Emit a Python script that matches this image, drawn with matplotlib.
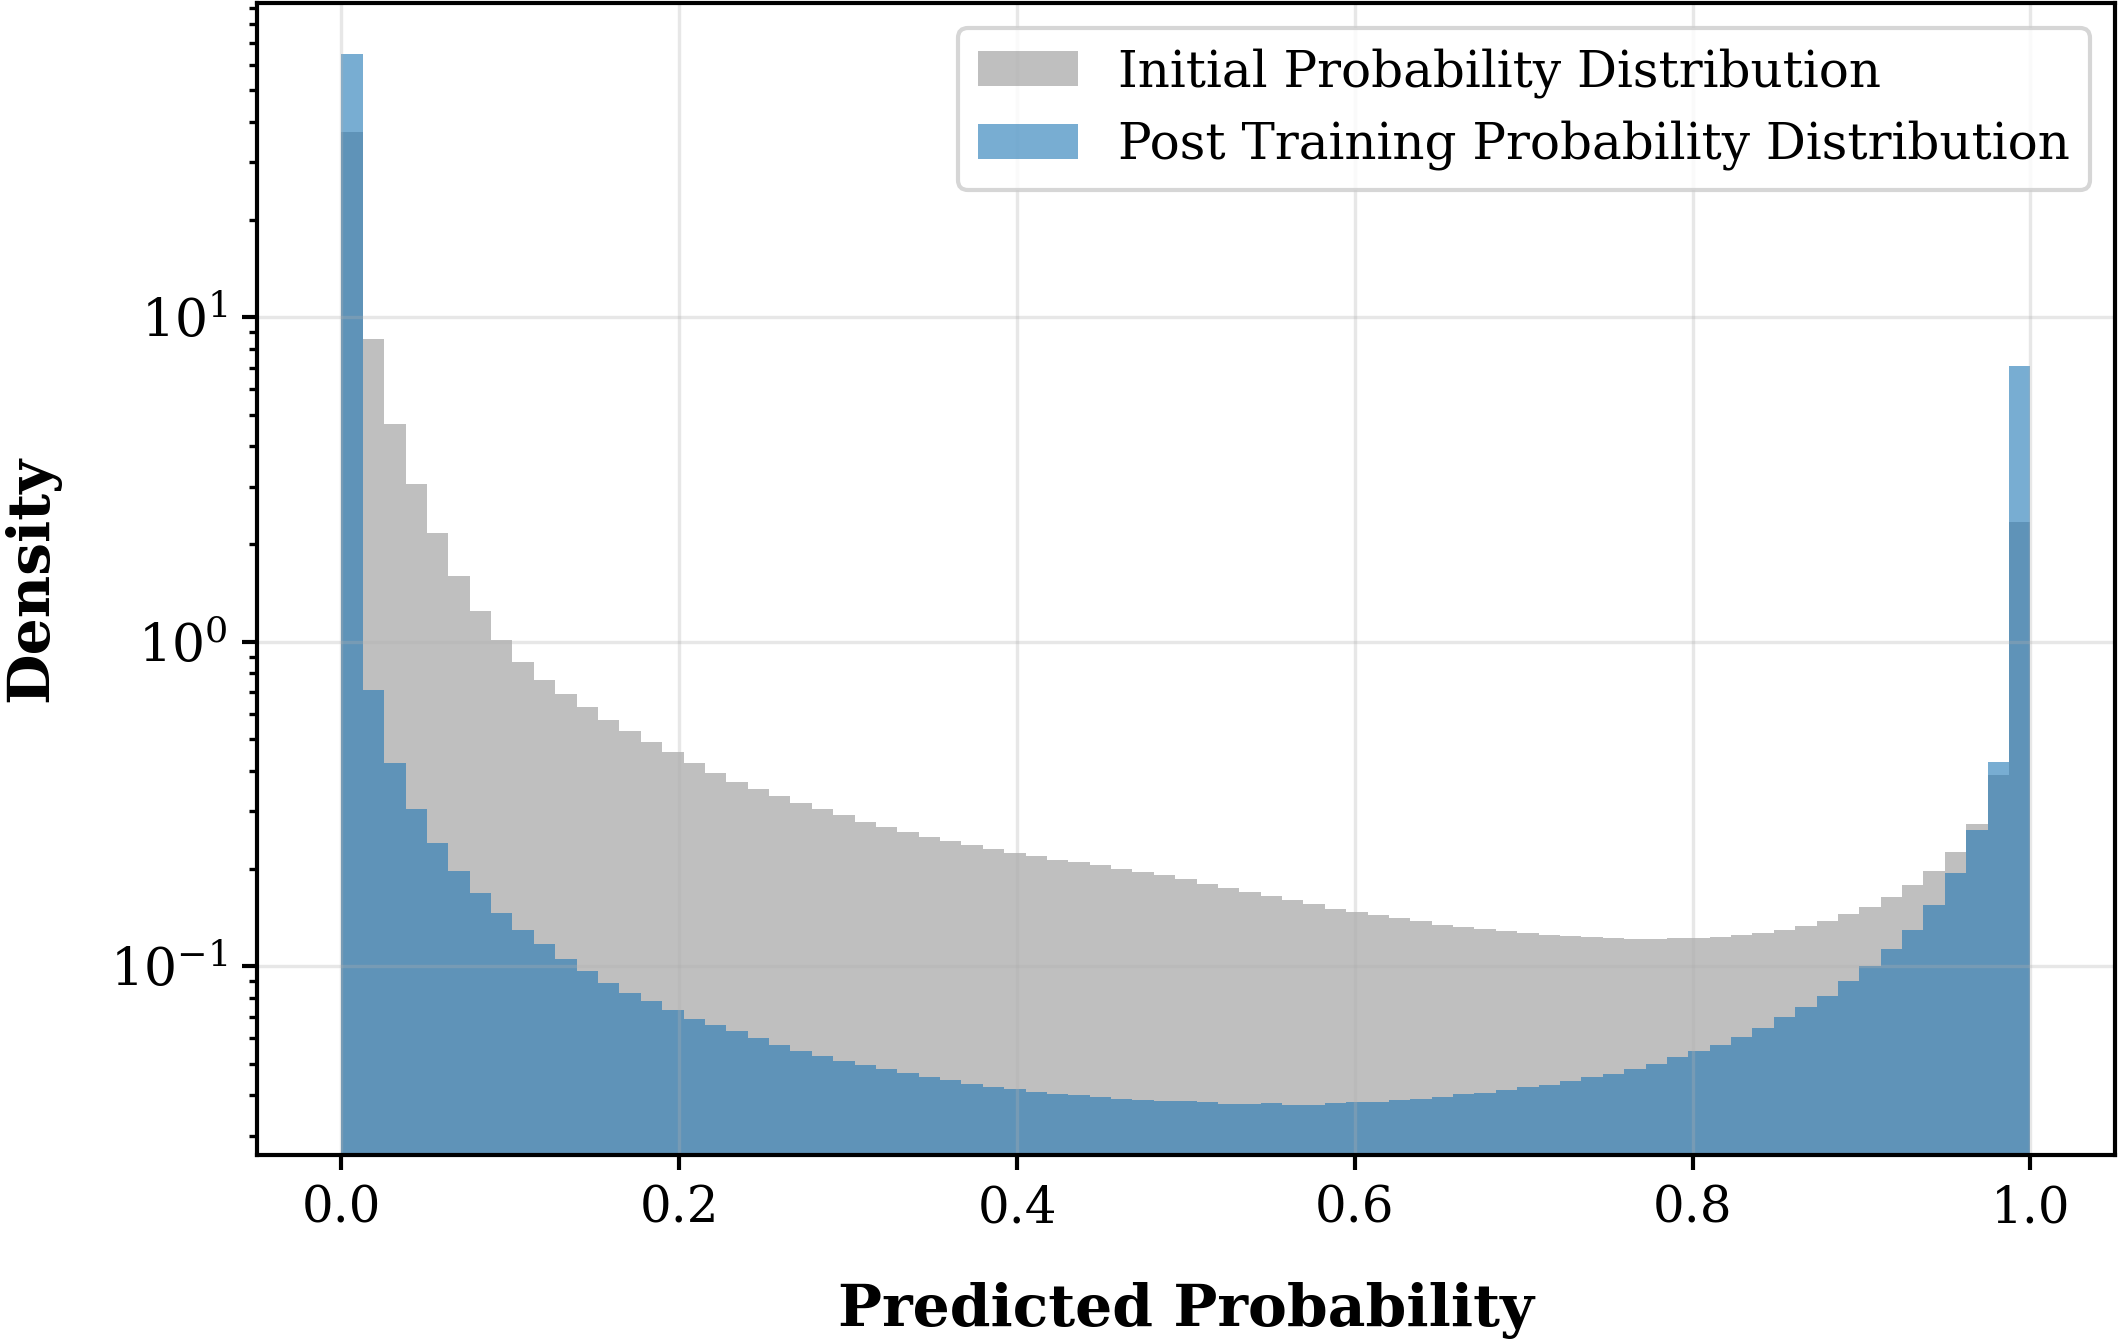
import numpy as np
import matplotlib
matplotlib.use("Agg")
import matplotlib.pyplot as plt

plt.rcParams['font.family'] = ['DejaVu Serif']
plt.rcParams['mathtext.fontset'] = 'dejavuserif'

# 79 equal bins on [0, 1], density per bin
bin_edges = np.linspace(0.0, 1.0, 80)

initial_density = [
    37.1, 8.56, 4.70, 3.06, 2.16, 1.59, 1.24, 1.016, 0.865, 0.765,
    0.691, 0.631, 0.576, 0.532, 0.490, 0.456, 0.422, 0.394, 0.370, 0.351,
    0.334, 0.319, 0.306, 0.292, 0.279, 0.269, 0.260, 0.250, 0.2425, 0.236,
    0.230, 0.2235, 0.218, 0.213, 0.209, 0.2045, 0.200, 0.1958, 0.1907, 0.1853,
    0.1796, 0.1746, 0.169, 0.1646, 0.1597, 0.1552, 0.1504, 0.1472, 0.1438, 0.1408,
    0.1375, 0.1343, 0.132, 0.130, 0.1281, 0.1266, 0.1245, 0.1237, 0.1228, 0.1222,
    0.1217, 0.1211, 0.1222, 0.1222, 0.1231, 0.1246, 0.1266, 0.1297, 0.1328, 0.1376,
    0.145, 0.152, 0.1634, 0.1778, 0.1964, 0.2249, 0.2748, 0.389, 2.34,
]

post_density = [
    64.8, 0.710, 0.423, 0.305, 0.239, 0.196, 0.168, 0.1455, 0.129, 0.117,
    0.105, 0.0968, 0.0889, 0.083, 0.078, 0.0733, 0.069, 0.0657, 0.0630, 0.0602,
    0.0573, 0.0549, 0.0528, 0.0510, 0.0498, 0.0481, 0.0469, 0.0457, 0.0446, 0.0435,
    0.0426, 0.0418, 0.0410, 0.0404, 0.0400, 0.0395, 0.0389, 0.0386, 0.0384, 0.0384,
    0.0382, 0.0376, 0.0377, 0.0378, 0.0375, 0.0374, 0.0380, 0.0383, 0.0383, 0.0388,
    0.0390, 0.0396, 0.0403, 0.0408, 0.0415, 0.0424, 0.0431, 0.0443, 0.0456, 0.0466,
    0.0483, 0.0499, 0.0524, 0.0547, 0.0574, 0.0607, 0.0647, 0.0696, 0.0750, 0.0812,
    0.0898, 0.100, 0.1127, 0.1297, 0.1545, 0.194, 0.263, 0.426, 7.09,
]

labels = ['Initial Probability Distribution', 'Post Training Probability Distribution']

fig = plt.figure(figsize=(2119 / 300, 1342 / 300), dpi=300)
ax = fig.add_axes([0.1213, 0.1393, 0.8767, 0.8585])

left = bin_edges[:-1]
ax.hist(left, bins=bin_edges, weights=initial_density, color='gray', alpha=0.5, label=labels[0])
ax.hist(left, bins=bin_edges, weights=post_density, color='tab:blue', alpha=0.6, label=labels[1])

ax.set_yscale('log')
ax.set_xlim(-0.05, 1.05)
ax.set_ylim(0.0262, 93)
ax.grid(True, alpha=0.3)

for s in ax.spines.values():
    s.set_linewidth(1.0)
ax.tick_params(labelsize=12, width=1.0)
ax.tick_params(axis='y', labelsize=12.5)
ax.tick_params(which='minor', width=0.8)

ax.set_xlabel('Predicted Probability', fontsize=14, fontweight='bold', labelpad=11.5)
ax.set_ylabel('Density', fontsize=14, fontweight='bold', labelpad=12)

ax.legend(loc='upper right', fontsize=12, labelspacing=0.45)

fig.savefig('out.png', dpi=300)
